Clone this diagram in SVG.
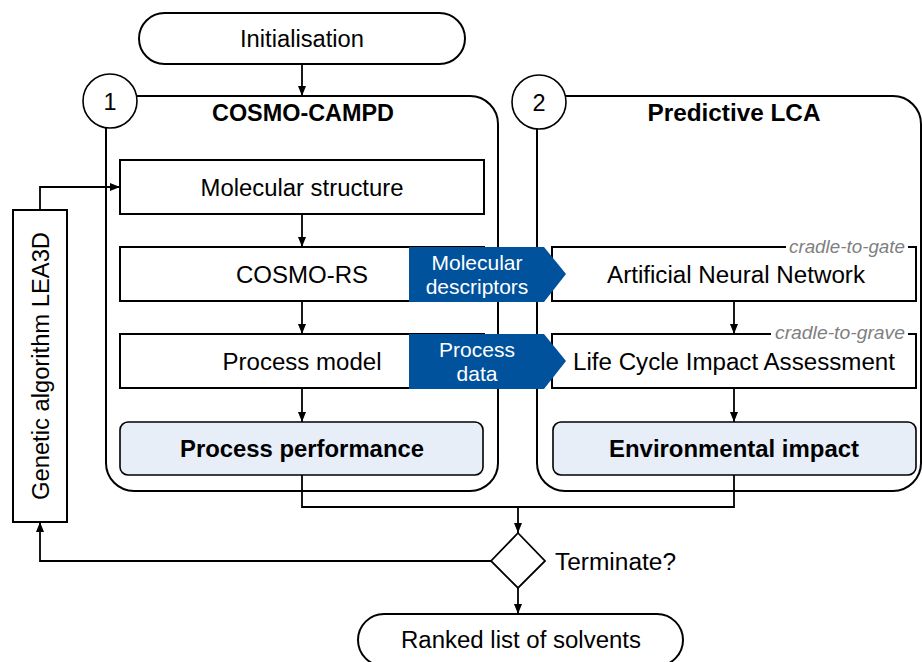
<svg xmlns="http://www.w3.org/2000/svg" width="922" height="662" viewBox="0 0 922 662">
<style>
text{font-family:"Liberation Sans",Arial,sans-serif;fill:#000}
.t{font-size:23.5px;text-anchor:middle}
.b{font-size:23.5px;font-weight:bold;text-anchor:middle}
.w{font-size:21px;fill:#fff;text-anchor:middle}
.g{font-size:18.5px;font-style:italic;fill:#7f7f7f;text-anchor:middle}
.box{fill:#fff;stroke:#000;stroke-width:2}
.res{fill:#e7eef8;stroke:#000;stroke-width:1.6}
.cont{fill:#fff;stroke:#000;stroke-width:2}
.blue{fill:#00529c}
.ln{fill:none;stroke:#000;stroke-width:1.8}
.ar{fill:none;stroke:#000;stroke-width:1.8;marker-end:url(#ah)}
</style>
<defs>
<marker id="ah" markerUnits="userSpaceOnUse" markerWidth="10" markerHeight="10" viewBox="0 0 10 10" refX="10" refY="5" orient="auto">
<path d="M0,1 L10,5 L0,9 Z" fill="#000"/>
</marker>
</defs>

<g id="container1">
<rect class="cont" x="106" y="96" width="392" height="395" rx="28"/>
<circle cx="110" cy="101" r="27" fill="#fff" stroke="#000" stroke-width="1.6"/>
<text class="t" x="110" y="110">1</text>
<text class="b" x="303" y="121" textLength="182" lengthAdjust="spacingAndGlyphs">COSMO-CAMPD</text>
</g>
<g id="container2">
<rect class="cont" x="537" y="96" width="384" height="395" rx="28"/>
<circle cx="539" cy="102" r="27" fill="#fff" stroke="#000" stroke-width="1.6"/>
<text class="t" x="539" y="111">2</text>
<text class="b" x="734" y="121" textLength="173" lengthAdjust="spacingAndGlyphs">Predictive LCA</text>
</g>

<g id="connectors">
<path class="ar" d="M302,64 V96"/>
<path class="ar" d="M302,214 V247"/>
<path class="ar" d="M302,301 V334"/>
<path class="ar" d="M302,388 V422"/>
<path class="ar" d="M734,301 V334"/>
<path class="ar" d="M734,388 V422"/>
<path class="ln" d="M302,475 V507 H734 V475"/>
<path class="ar" d="M518,507 V533"/>
<path class="ar" d="M518,587 V614"/>
<path class="ar" d="M492,561 H40 V522"/>
<path class="ar" d="M40,210 V187 H120"/>
</g>

<g id="initialisation">
<rect class="box" x="139" y="13" width="326" height="51" rx="25.5"/>
<text class="t" x="302" y="47" textLength="124" lengthAdjust="spacingAndGlyphs">Initialisation</text>
</g>

<g id="molecular-structure">
<rect class="box" x="120" y="160" width="364" height="54"/>
<text class="t" x="302" y="196" textLength="203" lengthAdjust="spacingAndGlyphs">Molecular structure</text>
</g>

<g id="cosmo-rs">
<rect class="box" x="120" y="247" width="364" height="54"/>
<text class="t" x="302" y="283" textLength="132" lengthAdjust="spacingAndGlyphs">COSMO-RS</text>
</g>

<g id="process-model">
<rect class="box" x="120" y="334" width="364" height="54"/>
<text class="t" x="302" y="370" textLength="159" lengthAdjust="spacingAndGlyphs">Process model</text>
</g>

<g id="process-performance">
<rect class="res" x="120" y="422" width="363" height="53" rx="8"/>
<text class="b" x="302" y="457" textLength="244" lengthAdjust="spacingAndGlyphs">Process performance</text>
</g>

<g id="ann">
<rect class="box" x="552" y="247" width="364" height="54"/>
<rect x="786" y="238" width="122" height="16" fill="#fff"/>
<text class="g" x="847" y="253" textLength="116" lengthAdjust="spacingAndGlyphs">cradle-to-gate</text>
<text class="t" x="736" y="283" textLength="258" lengthAdjust="spacingAndGlyphs">Artificial Neural Network</text>
</g>

<g id="lcia">
<rect class="box" x="552" y="334" width="364" height="54"/>
<rect x="771" y="325" width="137" height="16" fill="#fff"/>
<text class="g" x="840" y="339" textLength="130" lengthAdjust="spacingAndGlyphs">cradle-to-grave</text>
<text class="t" x="734" y="370" textLength="322" lengthAdjust="spacingAndGlyphs">Life Cycle Impact Assessment</text>
</g>

<g id="environmental-impact">
<rect class="res" x="553" y="422" width="363" height="53" rx="8"/>
<text class="b" x="734" y="457" textLength="250" lengthAdjust="spacingAndGlyphs">Environmental impact</text>
</g>

<g id="molecular-descriptors">
<path class="blue" d="M409,247 H544 L566,274 L544,302 H409 Z"/>
<text class="w" x="477" y="270">Molecular</text>
<text class="w" x="477" y="294">descriptors</text>
</g>

<g id="process-data">
<path class="blue" d="M409,334 H544 L566,361 L544,389 H409 Z"/>
<text class="w" x="477" y="357">Process</text>
<text class="w" x="477" y="381">data</text>
</g>

<g id="genetic-algorithm">
<rect class="box" x="13" y="210" width="54" height="312"/>
<text class="t" transform="translate(49,366) rotate(-90)" x="0" y="0" textLength="268" lengthAdjust="spacingAndGlyphs">Genetic algorithm LEA3D</text>
</g>

<g id="terminate">
<path d="M518,533 L545,561 L518,588 L491,561 Z" fill="#fff" stroke="#000" stroke-width="1.8"/>
<text x="555" y="570" style="font-size:23.5px" textLength="121" lengthAdjust="spacingAndGlyphs">Terminate?</text>
</g>

<g id="ranked-list">
<rect class="box" x="358" y="614" width="325" height="52" rx="26"/>
<text class="t" x="521" y="648" textLength="240" lengthAdjust="spacingAndGlyphs">Ranked list of solvents</text>
</g>
</svg>
